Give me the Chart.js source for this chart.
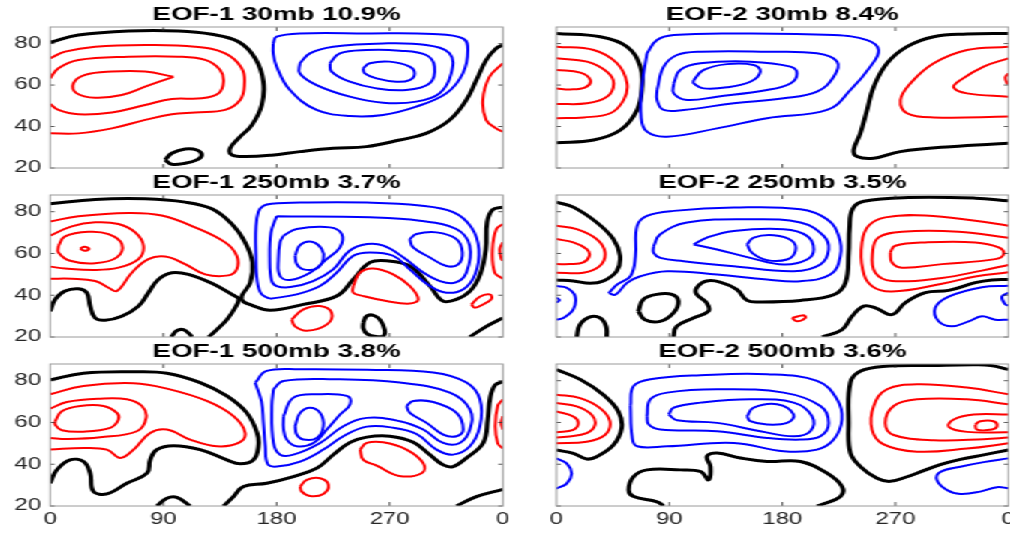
<!DOCTYPE html>
<html lang="en">
<head>
<meta charset="UTF-8">
<title>EOF contour panels</title>
<script src="https://cdn.jsdelivr.net/npm/chart.js"></script>
<style>
  body { margin: 0; background: #fff; overflow: hidden; }
  #fig { position: absolute; left: 0; top: 0; width: 673.33px; height: 536px;
         transform: scaleX(1.5); transform-origin: 0 0; }
  .panel { position: absolute; }
</style>
</head>
<body>
<div id="fig"></div>
<script>
// axis ticks
const xTicks = [0, 90, 180, 270, 360];
const xTickLabels = ['0', '90', '180', '270', '0'];
const yTicks = [20, 40, 60, 80];
const yTickLabels = ['20', '40', '60', '80'];

// contours as [lon, lat, lon, lat, ...]
// EOF-1 30mb
const e1_30_zero = [
  [0,80.6, 22.5,84.1, 62.3,86.1, 102,86.1, 128.5,84.5, 149.7,80.9, 163,72.9, 169.5,61.6, 168.2,50.4, 160.3,40.7, 149.7,34.3, 143,29.5, 144.4,26.3, 155,25.5, 176,26.2, 198.5,27.9, 225,29.5, 251.5,30.3, 278,33.5, 299,36.7, 317.6,43.1, 331,52.8, 339,62.4, 346.8,72.1, 354.7,77.7, 360,79.3],
  [91.4,23.9, 96.7,27.1, 107.3,29.2, 116.6,28.7, 120.5,26.3, 116.6,23.9, 107.3,22.3, 96.7,21.8, 91.4,23.9]
];
const e1_30_pos = [
  [0,72.9, 11.9,76.1, 35.8,78.5, 75.5,79.3, 115.2,78.5, 139.1,75.3, 152.3,68.1, 154.4,60, 151,52.8, 139.1,48, 115.2,46.8, 96.7,45.9, 75.5,43.2, 49,39.1, 22.5,36.7, 0,36.7],
  [0,63.2, 6.6,68.1, 22.5,72.1, 62.3,73.7, 102,73.7, 123.2,72.1, 135.1,67.3, 137.8,61.6, 133.8,56, 120.5,53.6, 96.7,53.3, 75.5,50.4, 49,46.8, 22.5,45.9, 6.6,48, 0,50.9],
  [98,64, 75.5,66.5, 49,66.5, 27.8,64.9, 18.5,60.8, 21.2,56, 35.8,53.9, 56.9,55.2, 75.5,59.2, 98,64],
  [360,70.5, 349.4,64, 344.1,52.8, 346.8,43.1, 354.7,39.1, 360,37.5]
];
const e1_30_neg = [
  [177.3,80.1, 180,83.3, 198.5,84.9, 251.5,84.9, 304.4,84.6, 328.2,82.5, 332.2,76.9, 328.2,65.6, 315,56, 291.2,49.6, 264.7,45.6, 238.2,45.1, 211.8,48, 190.6,57.6, 180,68.9, 177.3,75.3, 177.3,80.1],
  [198.5,70.5, 206.5,75.3, 225,78.5, 264.7,80.1, 299,79.3, 317.6,75.3, 319,65.6, 309.7,56, 291.2,52, 264.7,51.5, 238.2,54.4, 211.8,60, 198.5,65.6, 198.5,70.5],
  [222.4,70.5, 230.3,75.3, 251.5,76.9, 278,76.6, 299,74.5, 305.7,68.9, 301.8,60.8, 283.2,57.6, 259.4,58.4, 238.2,61.6, 223.7,66.5, 222.4,70.5],
  [248.8,68.1, 254.1,70.5, 270,71.3, 285.9,68.9, 289.9,65.6, 285.9,62.4, 275.3,61.6, 259.4,63.2, 250.1,65.6, 248.8,68.1]
];

// EOF-2 30mb
const e2_30_zero = [
  [0,84.9, 35,83.3, 56.3,78.5, 66.9,68.9, 68.2,59.2, 64.3,48, 51,38.3, 29.7,33.5, 0,32.2],
  [360,84.9, 327.1,84.6, 300.6,83.3, 279.3,78.5, 263.4,70.5, 252.8,59.2, 247.5,48, 242.1,36.7, 236.8,28.7, 239.5,25.5, 252.8,24.7, 274,27.9, 314,30.3, 360,31.9]
];
const e2_30_pos = [
  [0,78.5, 29.7,76.9, 48.3,70.5, 56.3,60.8, 53.6,52.8, 43,46.4, 21.8,44.4, 0,44],
  [0,72.9, 24.4,71.3, 40.4,66.4, 45.7,60.8, 40.4,54.4, 24.4,51.2, 0,50.9],
  [0,67.3, 19.1,66, 27.1,62.4, 23.1,58.9, 11.2,57.9, 0,58.4],
  [360,78.5, 327.1,76.9, 300.6,70.5, 282,60.8, 274.1,52.8, 279.3,46.4, 300.6,44.4, 360,44.8],
  [360,72.9, 340.4,68.9, 321.8,62.4, 316.5,58.9, 327.1,56, 360,54.4],
  [360,65.6, 357.7,63.7, 359,60.8, 360,60.5]
];
const e2_30_neg = [
  [72.2,75.3, 80.2,81.7, 93.5,84.1, 141.3,84.9, 220.9,84.1, 247.5,81.7, 256.7,76.9, 250.1,68.9, 234.2,57.6, 215.6,48, 167.8,44, 128,39.1, 88.2,35.1, 72.2,37.5, 67.5,44.8, 68.5,60.8, 72.2,75.3],
  [80.2,57.6, 85.5,68.9, 96.1,74.5, 114.7,76.1, 167.8,76.1, 207.6,75.3, 223.6,71.3, 220.9,64, 207.6,56.8, 181.1,53.6, 141.3,51.2, 101.4,48, 85.5,48, 80.2,52.8, 80.2,57.6],
  [93.5,60.8, 98.8,67.3, 114.7,70.5, 154.5,71.3, 186.4,68.9, 191.7,65.6, 186.4,60.8, 167.8,57.6, 128,54.4, 104.1,52.8, 93.5,56, 93.5,60.8],
  [109.4,62.4, 117.4,67.3, 135.9,70.1, 157.2,69.7, 162.5,66.5, 154.5,61.6, 135.9,58.9, 117.4,58.4, 109.4,60.8, 109.4,62.4]
];

// EOF-1 250mb
const e1_250_zero = [
  [0,83.8, 35.8,85.9, 75.5,86.2, 107.3,84.6, 128.5,81.4, 144.4,74.1, 155,65.3, 160.8,55.7, 159,46, 152.3,39.6, 153.5,37, 160,35.3, 174.8,32.8, 201.3,35.6, 227.8,39.6, 241,47.6, 254.3,55.7, 267.5,56.5, 286,54, 302,44.4, 312.5,37.2, 323.1,38, 334,42, 342,50, 346.5,62, 347.5,75, 352,81, 360,82.2],
  [0,32.3, 4,38, 11.9,42, 22.5,43.1, 29.1,41.2, 31.8,34.8, 35.8,29.1, 43.7,28, 56.9,29.9, 70.2,34.8, 78.1,41.2, 86.1,47.6, 96.7,50.8, 109.9,50, 128.5,45.7, 144.4,40.4, 149.7,38.3, 147,34, 140.4,28.3, 131,22.7, 126,20],
  [96.2,20, 100.7,23, 106,23.5, 111.3,21.1, 112.6,20],
  [249,27, 251.6,30, 257,30.4, 262.2,28.3, 266,23.5, 265,20.5, 259,20.2, 252,21.5, 249,24, 249,27],
  [333.7,20, 347,25.1, 360,29.1]
];
const e1_250_pos = [
  [0,75.3, 22.5,77.8, 62.3,79.4, 88.7,78.2, 115.2,72.5, 139.1,65.3, 148.3,58.9, 148.3,52.4, 141.7,49.5, 123.2,50, 107.3,54.9, 91.4,58.5, 78.1,57.3, 64.9,50.8, 53,42, 46.4,43.6, 35.8,46.8, 17.2,47.9, 0,47.9],
  [0,68.5, 17.2,73, 35.8,74.9, 54.3,74.1, 67.6,70.1, 74.2,63.7, 70.2,57.3, 54.3,53.2, 35.8,52.1, 11.9,52.8, 0,53.7],
  [6.6,63.7, 11.9,68.2, 30.5,70.4, 46.4,69.3, 57,64.5, 53,58.1, 35.8,55.3, 15.9,56.5, 6.6,60.5, 6.6,63.7],
  [23.8,62.4, 27.3,63.2, 31,62.1, 27.3,61.3, 23.8,62.4],
  [241,44.4, 246.3,50.8, 256.9,52.8, 272.8,50, 286,44.4, 292.7,38, 286,36, 267.5,37.2, 249,39.6, 241,41.2, 241,44.4],
  [192,28.3, 201.3,33.2, 214.5,34.8, 223.8,31.5, 219.8,25.9, 204,23, 194.7,25.1, 192,28.3],
  [335,35.6, 341.7,39.3, 349.6,40.4, 351,38.3, 344.3,35.6, 337.7,34, 335,35.6],
  [360,74.1, 354.9,71.7, 351.8,62.1, 353.6,50.8, 360,47.9],
  [360,65.3, 357.6,62.1, 358.9,57.3, 360,56.5]
];
const e1_250_neg = [
  [174.8,38.3, 168,40.5, 164.5,47, 163.5,60, 163.5,72, 165.5,80, 169.6,82.8, 176,83.8, 198.7,84.4, 251.7,84.4, 294,83, 320.5,79.8, 335,72.5, 341,62, 338,50, 329,43, 315.2,41.2, 302,44.4, 286,52.4, 272.8,58.9, 254.3,60.5, 241,58.9, 227.8,50.8, 214.5,44.4, 196,40.4, 174.8,38.3],
  [180,77.8, 254,77.3, 294,75.7, 323,71.7, 333.7,63.7, 331,50.8, 322,46, 310,46.8, 297,50.8, 281,58.1, 265,63.7, 252,64.5, 238,61.3, 225,52.4, 209,46.8, 191,43.9, 180,44.4, 176,47, 174.5,57.3, 175.5,70, 180,77.8],
  [185.4,68.5, 196,71.7, 222.5,72.5, 231.8,69.3, 230.4,62.9, 219.8,57.3, 206.6,50.8, 190.7,47.3, 182.7,49.2, 181.4,57.3, 182.7,65.3, 185.4,68.5],
  [286,66.9, 291.4,69.3, 307.3,70.1, 323.1,66.9, 327.9,60.5, 324.5,54.8, 315.2,54, 302,58.1, 288.7,62.9, 286,66.9],
  [194.7,58.9, 198.6,64, 207.9,65.6, 215.9,62.1, 217.2,57.3, 211.9,52.8, 201.3,52.4, 196,54.9, 194.7,58.9]
];

// EOF-2 250mb
const e2_250_zero = [
  [0,84.6, 13.5,82.2, 32.1,74.9, 45.4,66.9, 50.7,58.9, 48.1,51.6, 37.4,46.8, 26.8,45.7, 13.5,46.8, 0,47.3],
  [16.2,20, 18.8,25.9, 26.8,29.6, 34.8,29.1, 39.6,25.1, 40.1,20],
  [65.3,32.3, 69.3,38, 79.9,40.4, 91.9,40.4, 97.2,37.2, 93.2,31.5, 82.6,27.5, 70.6,28.3, 65.3,32.3],
  [93.2,20, 95.8,25.1, 109.1,29.1, 121.1,32.3, 119.7,36.4, 111.8,40.4, 111.8,43.6, 119.7,46.8, 130.4,46.3, 143.6,42.8, 151.9,37.5, 162,36.8, 194.4,37.5, 220.9,40.2, 230.2,45.9, 232.8,60.3, 233.5,72, 236,81.4, 245,85, 280.6,86.8, 333.7,86.5, 360,85.2],
  [211.6,20, 227.5,23.5, 235.5,29.9, 244.8,34.8, 254,34, 267.3,30.7, 277.9,36.4, 293.9,41.2, 312.5,42.3, 333.7,46, 347,47.3, 360,47.5]
];
const e2_250_pos = [
  [0,73.3, 16.2,71.7, 32.1,66.9, 38.8,60.5, 34.8,54.1, 21.5,50.8, 0,50.8],
  [0,66.9, 13.5,65.3, 24.2,62.1, 26.3,58.9, 21.5,55.7, 10.9,54.9, 0,54.9],
  [360,73.3, 333.7,75.7, 293.9,78.2, 262,77.3, 248.7,73.3, 243.4,65.3, 244,52.4, 251.4,44.4, 267.3,41.8, 307.2,45.5, 333.7,49, 360,51],
  [360,67.5, 320.4,70.4, 275.3,70.4, 256.7,67.7, 251.9,60.5, 254,50.8, 267.3,46.8, 307.2,48.3, 339,51.8, 360,54.5],
  [266,60.5, 270,63.7, 293.9,65.3, 333.7,65.3, 352.3,62.9, 356.3,59.7, 349.6,57.3, 307.2,54.9, 275.3,53.2, 267.3,55.7, 266,60.5],
  [187.7,29.1, 197,30.4, 198.3,29.1, 191.7,27.5, 187.7,29.1]
];
const e2_250_neg = [
  [41.7,41, 48.3,45.1, 59,49.1, 63,58.7, 64.3,73.2, 72.2,78, 93.5,80.4, 141.3,82, 194.4,81.2, 215.6,76.4, 224.9,68.4, 226.2,58.7, 218.2,49.9, 194.4,46.7, 167.8,47.5, 128,49.9, 88.2,51.5, 66.9,49.1, 56.3,45.9, 47,40.2, 41.7,41],
  [77.5,63.5, 82.8,69.2, 104.1,74.8, 154.5,76.4, 194.4,74.8, 212.9,68.4, 216.9,61.9, 210.3,54.7, 189.1,51.5, 141.3,53.9, 101.4,56.3, 82.8,57.9, 77.5,60.3, 77.5,63.5],
  [109.4,64.3, 120,67.6, 141.3,70.8, 181.1,71.6, 199.7,68.4, 205,61.9, 199.7,57.1, 181.1,54.7, 154.5,57.9, 128,61.9, 109.4,64.3],
  [151.9,64.3, 157.2,67.6, 173.1,68.7, 187.7,66, 190.4,61.1, 183.7,57.1, 167.8,56.8, 155.9,60.3, 151.9,64.3],
  [0,44.4, 8.2,43.6, 14.9,39.6, 13.5,33.2, 5.6,29.1, 0,28.3],
  [0,38.8, 2.4,37.7, 0,36.4],
  [360,44.5, 339,43.8, 312.5,39.3, 301.8,34, 304.5,27.5, 315.1,25.1, 328.4,27.5, 339,29.9, 349.6,28.3, 360,28.3],
  [360,41.2, 354.9,39.3, 357.6,35.6, 360,35.1]
];

// EOF-1 500mb
const e1_500_zero = [
  [0,80.4, 26.5,83.6, 66.3,84.3, 92.8,83.6, 119.2,79.1, 140.4,72.7, 156.3,64.6, 164.5,55, 165.5,48.6, 161.6,42.1, 151,40.2, 140.4,42.1, 119.2,47, 98.1,48.9, 84.8,47, 79.5,42.1, 76.9,35.7, 61,30.9, 45.1,25.8, 34.5,26.9, 31.8,35.7, 26.5,41.3, 15.9,42.1, 5.3,37.3, 0,30.9],
  [137.8,20, 145.7,24.5, 153.7,29.3, 172.2,30.9, 193.4,34.1, 212,38.1, 225.2,44.6, 238.5,50.5, 251.7,53, 270.2,53.4, 288.8,50.5, 302,44.5, 312.6,39.7, 320.5,38.9, 331.1,43, 344.4,50.2, 348,61.4, 350,72, 354,78, 360,79.5],
  [84.8,20, 92.8,23.7, 100.7,24.1, 111.3,20],
  [323.2,20, 339,24.5, 360,28]
];
const e1_500_pos = [
  [0,73.5, 26.5,77.5, 66.3,78.8, 92.8,76.2, 124.5,70.3, 145.7,63, 155,55, 149.7,50.2, 132.5,48.6, 111.3,51.8, 92.8,56.6, 79.5,55, 66.3,47, 55.7,43, 45.1,47, 26.5,47.8, 0,47],
  [0,66.6, 13.3,69.8, 39.8,71.4, 61,71.1, 72.9,67.9, 76.3,62.2, 68.9,55.8, 39.8,52.9, 13.3,52.1, 0,52.6],
  [4,60.6, 9.3,65.4, 23.9,67.9, 42.4,67.9, 53,64.6, 54.3,61.4, 47.7,57.4, 26.5,55.6, 9.3,56.3, 4,59, 4,60.6],
  [246.4,47, 251.7,50.2, 264.9,50.5, 283.4,47, 296.7,40.5, 295.4,35.7, 277.5,34.4, 259.6,39.3, 249,42.1, 246.4,47],
  [198.7,29.3, 204,32.5, 214.6,33.3, 221.2,30.1, 217.2,25.8, 206.6,24.8, 200,26.9, 198.7,29.3],
  [360,71, 356,68, 354,58.2, 356,50, 360,47.5],
  [360,63, 358.7,59.8, 360,56.6]
];
const e1_500_neg = [
  [163,79, 172.2,84.7, 198.7,85.5, 251.7,85.2, 304.7,83.9, 331.1,79.1, 341.8,71.1, 341.8,58.2, 333.8,48.6, 320.5,44.6, 307.3,47, 291.4,54.5, 272.9,57.5, 251.7,58, 233.1,53.4, 217.2,47, 198.7,41.3, 180.2,38.9, 173,40, 171,48.6, 169.5,60, 168,70, 163,79],
  [177.5,75.9, 185.5,79.9, 225.2,80.7, 278.2,79.1, 317.9,74.3, 333.8,66.3, 333.8,56.6, 325.8,50.2, 312.6,50.2, 296.7,56.6, 278.2,60.6, 251.7,62.2, 233.1,58.2, 214.6,50.2, 193.4,44.6, 182.8,44.6, 177.5,50.2, 176.2,67.9, 177.5,75.9],
  [185.5,63, 193.4,71.9, 212,73.5, 235.8,72.7, 238.5,68.7, 230.5,63.8, 219.9,56.6, 209.3,50.2, 196,48.6, 188.1,51.8, 185.5,57, 185.5,63],
  [283.5,67.9, 288.8,70.3, 304.7,69.8, 323.2,64.6, 328.5,56.6, 323.2,53.4, 312.6,54.2, 299.4,59.8, 286.1,64.6, 283.5,67.9],
  [194.7,58.2, 198.7,64.6, 206.6,67.1, 214.6,64.6, 217.2,58.2, 212,52.6, 201.3,51.8, 196,54.2, 194.7,58.2]
];

// EOF-2 500mb
const e2_500_zero = [
  [0,85.4, 18.9,80.6, 37.4,73.3, 49.4,65.3, 52,57.3, 45.4,49.2, 32.1,43.6, 24.2,42.5, 13.5,45.2, 0,46.8],
  [85.5,20, 80.2,22, 61.6,24.5, 57.6,27.7, 61.6,34.1, 72.2,37.3, 98.8,37.3, 114.7,36.5, 121.3,32.5, 122.7,38.9, 120,43.8, 128,45.4, 146.6,43, 167.8,41.3, 194.4,41.3, 215.6,35.7, 227.5,29.3, 226.2,24.5, 210.3,20.5, 207.6,20],
  [360,46.8, 340.4,44.5, 321.8,42.3, 305.8,39.8, 292,36.8, 279.3,34, 266,31.8, 255.4,33.3, 242.1,38.9, 234.2,45.4, 232.8,59.8, 234.2,79.1, 242,84.5, 260,86.8, 300,87.3, 332,87.6, 346,87.3, 360,85.4]
];
const e2_500_pos = [
  [0,73.3, 18.9,71.7, 34.8,66.9, 42.7,60.5, 38.8,54.1, 24.2,50.8, 0,50],
  [0,69.3, 16.2,67.7, 28.1,63.7, 30.8,58.9, 24.2,54.9, 8.2,53.2, 0,52.8],
  [0,65.3, 13.5,62.9, 17.5,59.7, 13.5,56.5, 0,55.3],
  [360,73.5, 327.1,76.7, 287.3,78.3, 263.4,75.9, 252.8,67.9, 251.4,56.6, 260.7,49.5, 287.3,46, 327.1,47.5, 360,50],
  [360,68.7, 327.1,71.1, 287.3,71.1, 268.7,67.9, 262,59.8, 268.7,54, 300.6,51.5, 340.4,52, 360,52.8],
  [360,63.8, 332.4,63.8, 316.5,61.4, 312.5,57.9, 327.1,55.5, 360,55.3],
  [333.7,59, 337.7,60.6, 348.3,60.6, 351,58.2, 347,56.6, 335,56.6, 333.7,59]
];
const e2_500_neg = [
  [59,67.9, 61.6,77.5, 74.9,80.7, 114.7,82.6, 167.8,83.1, 207.6,79.9, 223.6,71.1, 227.5,61.4, 220.9,51.8, 207.6,47, 181.1,46.2, 141.3,50.2, 88.2,48.6, 64.3,48.6, 60.3,53.4, 59,67.9],
  [72.2,63, 74.9,71.1, 88.2,74.3, 128,75.9, 181.1,74.3, 210.3,67.9, 216.9,59.8, 210.3,53.4, 194.4,51.8, 167.8,52.6, 128,55.8, 82.8,56.6, 73.6,59, 72.2,63],
  [89.5,63.8, 93.5,67.1, 114.7,69.5, 154.5,71.1, 189,69.5, 203.6,63, 202.3,55.8, 189,53.4, 162.5,55.8, 128,59.8, 96.1,61.1, 89.5,63.8],
  [151.9,63, 157.2,67.1, 175.8,68.7, 189,63.8, 183.7,59.8, 167.8,59, 154.5,60.6, 151.9,63],
  [0,42.8, 8.2,40.4, 12.2,35.6, 8.2,30.7, 0,28.3],
  [360,42.8, 340.4,41, 321.8,38.8, 305.8,36.3, 303.1,32.5, 311.1,27.7, 321.8,25.8, 337.7,26.9, 351,29, 360,28.5]
];

const panels = [
  { title: 'EOF-1 30mb 10.9%',  col: 0, row: 0, zero: e1_30_zero,  pos: e1_30_pos,  neg: e1_30_neg },
  { title: 'EOF-2 30mb 8.4%',   col: 1, row: 0, zero: e2_30_zero,  pos: e2_30_pos,  neg: e2_30_neg },
  { title: 'EOF-1 250mb 3.7%',  col: 0, row: 1, zero: e1_250_zero, pos: e1_250_pos, neg: e1_250_neg },
  { title: 'EOF-2 250mb 3.5%',  col: 1, row: 1, zero: e2_250_zero, pos: e2_250_pos, neg: e2_250_neg },
  { title: 'EOF-1 500mb 3.8%',  col: 0, row: 2, zero: e1_500_zero, pos: e1_500_pos, neg: e1_500_neg },
  { title: 'EOF-2 500mb 3.6%',  col: 1, row: 2, zero: e2_500_zero, pos: e2_500_pos, neg: e2_500_neg }
];

// layout (unstretched px; the figure div is stretched 1.5x horizontally)
const colLeft = [33.33, 370.67], colWidth = [302, 301.33], yAxisW = [33.33, 10];
const rowTop = [27, 195, 364], rowHeight = [141, 142, 142];
const TITLE_H = 27, XAXIS_H = 30, RIGHT_PAD = 6, BOTTOM_PAD = 20;

const fontFamily = '"Liberation Sans", Arial, Helvetica, sans-serif';

function toPts(flat) {
  const pts = [];
  for (let i = 0; i < flat.length; i += 2) pts.push({ x: flat[i], y: flat[i + 1] });
  return pts;
}

function lineSet(flat, color, width) {
  return {
    data: toPts(flat), showLine: true, borderColor: color, borderWidth: width,
    pointRadius: 0, tension: 0.4, fill: false
  };
}

// axes box with small inward ticks
const boxPlugin = {
  id: 'box',
  afterDraw(chart) {
    const { ctx, chartArea: a, scales } = chart;
    ctx.save();
    ctx.strokeStyle = '#262626';
    ctx.lineWidth = 0.8;
    xTicks.slice(1, -1).forEach(v => {
      const px = scales.x.getPixelForValue(v);
      ctx.beginPath();
      ctx.moveTo(px, a.bottom); ctx.lineTo(px, a.bottom - 4);
      ctx.moveTo(px, a.top); ctx.lineTo(px, a.top + 4);
      ctx.stroke();
    });
    yTicks.forEach(v => {
      const py = scales.y.getPixelForValue(v);
      ctx.beginPath();
      ctx.moveTo(a.left, py); ctx.lineTo(a.left + 3, py);
      ctx.moveTo(a.right, py); ctx.lineTo(a.right - 3, py);
      ctx.stroke();
    });
    ctx.strokeStyle = '#9a9a9a';
    ctx.lineWidth = 1;
    ctx.strokeRect(a.left, a.top, a.right - a.left, a.bottom - a.top);
    ctx.restore();
  }
};

const fig = document.getElementById('fig');

panels.forEach(p => {
  const bottomRow = p.row === 2;
  const leftCol = p.col === 0;
  const div = document.createElement('div');
  div.className = 'panel';
  const left = colLeft[p.col] - yAxisW[p.col];
  const top = rowTop[p.row] - TITLE_H;
  const w = yAxisW[p.col] + colWidth[p.col] + RIGHT_PAD;
  const h = TITLE_H + rowHeight[p.row] + (bottomRow ? XAXIS_H : BOTTOM_PAD);
  div.style.left = left + 'px';
  div.style.top = top + 'px';
  div.style.width = w + 'px';
  div.style.height = h + 'px';
  div.style.zIndex = String(3 - p.row);
  const canvas = document.createElement('canvas');
  div.appendChild(canvas);
  fig.appendChild(div);

  const datasets = [];
  p.pos.forEach(c => datasets.push(lineSet(c, '#ff0000', 2)));
  p.neg.forEach(c => datasets.push(lineSet(c, '#0000ff', 2)));
  p.zero.forEach(c => datasets.push(lineSet(c, '#000000', 3)));

  new Chart(canvas, {
    type: 'scatter',
    data: { datasets },
    options: {
      responsive: true,
      maintainAspectRatio: false,
      animation: false,
      layout: { padding: { left: 0, right: RIGHT_PAD, top: 0, bottom: bottomRow ? 0 : BOTTOM_PAD } },
      plugins: {
        legend: { display: false },
        tooltip: { enabled: false },
        title: {
          display: true, text: p.title, fullSize: false, color: '#000',
          font: { family: fontFamily, size: 18.5, weight: 'bold', lineHeight: 1.2 },
          padding: { top: 3.5, bottom: 1.3 }
        }
      },
      scales: {
        x: {
          type: 'linear', min: 0, max: 360,
          afterBuildTicks: s => { s.ticks = xTicks.map(v => ({ value: v })); },
          afterFit: s => {
            s.height = bottomRow ? XAXIS_H : 0;
            s.paddingLeft = 0; s.paddingRight = 0;
          },
          grid: { display: false, drawTicks: false },
          border: { display: false },
          ticks: {
            display: bottomRow, autoSkip: false, maxRotation: 0, padding: 4,
            color: '#262626', font: { family: fontFamily, size: 16 },
            callback: (v, i) => xTickLabels[i]
          }
        },
        y: {
          type: 'linear', min: 20, max: 88,
          afterBuildTicks: s => { s.ticks = yTicks.map(v => ({ value: v })); },
          afterFit: s => {
            s.width = yAxisW[p.col];
            s.paddingTop = 0; s.paddingBottom = 0;
          },
          grid: { display: false, drawTicks: false },
          border: { display: false },
          ticks: {
            display: leftCol, autoSkip: false, padding: 6,
            color: '#262626', font: { family: fontFamily, size: 16 },
            callback: (v, i) => yTickLabels[i]
          }
        }
      }
    },
    plugins: [boxPlugin]
  });
});
</script>
</body>
</html>
